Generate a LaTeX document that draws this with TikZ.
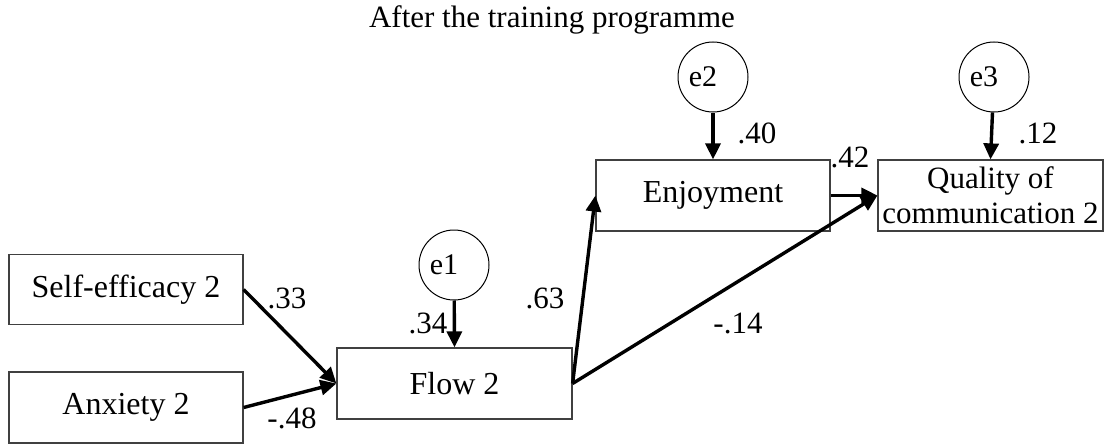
\documentclass[tikz,border=0pt]{standalone}
\usepackage{fontspec}
\setmainfont{Liberation Serif}
\usetikzlibrary{arrows.meta}
\newcommand{\errlbl}[1]{\hspace*{-20pt}\raisebox{-4pt}{#1}}
\tikzset{
    varbox/.style={draw=black!75, line width=1.2pt, minimum width=234pt, minimum height=70pt, inner sep=0pt, align=center, font=\fontsize{32}{36}\selectfont},
    errcirc/.style={circle, draw, line width=1pt, minimum size=70pt, inner sep=0pt, font=\fontsize{30}{32}\selectfont},
    path/.style={line width=3.4pt, -{Triangle[length=16pt,width=15pt]}},
    coef/.style={inner sep=0pt}
}
\begin{document}
\begin{tikzpicture}[x=1pt,y=-1pt,font=\fontsize{31}{36}\selectfont]
        \useasboundingbox (0,0) rectangle (1105,444);
        \node[coef] (title) at (552,20) {After the training programme};
        % observed variables
        \node[varbox] (self) at (126,289.5) {Self-efficacy 2};
        \node[varbox, minimum height=71pt] (anx) at (126,407.5) {Anxiety 2};
        \node[varbox, minimum width=235pt, minimum height=71pt] (flow) at (454.5,383.5) {Flow 2};
        \node[varbox, minimum height=71pt] (enj) at (713,195.5) {Enjoyment};
        \node[varbox, minimum width=225pt, minimum height=71pt, font=\fontsize{31}{35}\selectfont] (qual) at (990.5,195.5) {Quality of\\communication 2};
        % error terms
        \node[errcirc] (e1) at (454,265) {\errlbl{e1}};
        \node[errcirc] (e2) at (713,77) {\errlbl{e2}};
        \node[errcirc] (e3) at (994,77) {\errlbl{e3}};
        % paths
        \draw[path] (self.east) -- (flow.west);
        \draw[path] (anx.east) -- (flow.west);
        \draw[path] (e1) -- (flow.north);
        \draw[path] (flow.east) -- (enj.west);
        \draw[path] (flow.east) -- (qual.west);
        \draw[path] (enj.east) -- (qual.west);
        \draw[path] (e2) -- (enj.north);
        \draw[path] (e3) -- (qual.north);
        % coefficients
        \node[coef] (c33) at (287,298) {.33};
        \node[coef] (c48) at (292,418) {-.48};
        \node[coef] (c34) at (428,323) {.34};
        \node[coef] (c63) at (545,298) {.63};
        \node[coef] (c14) at (738,323) {-.14};
        \node[coef] (c40) at (757,133) {.40};
        \node[coef] (c42) at (850,157) {.42};
        \node[coef] (c12) at (1038,133) {.12};
\end{tikzpicture}
\end{document}
